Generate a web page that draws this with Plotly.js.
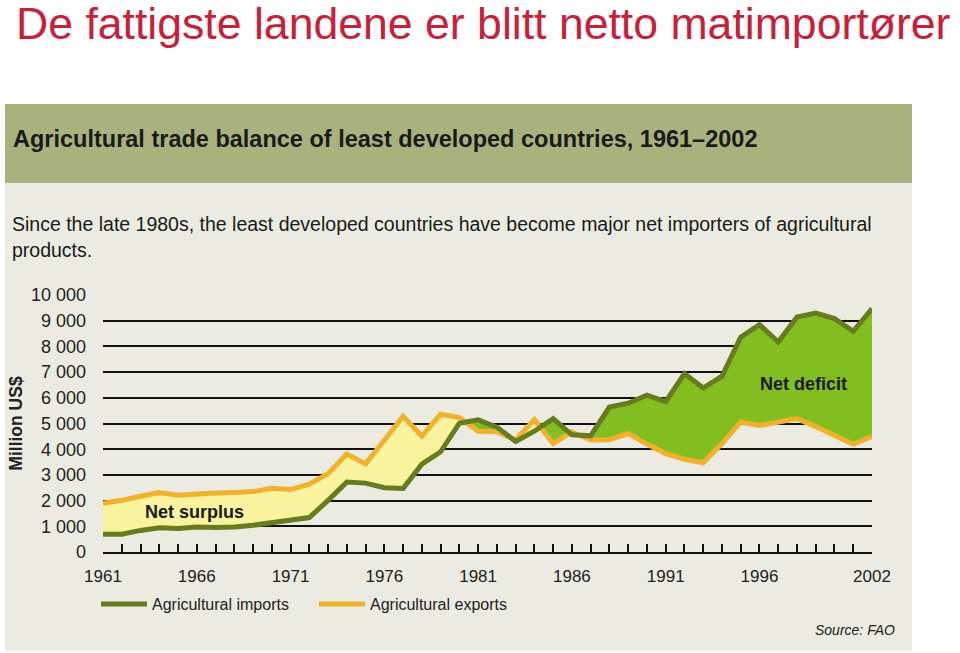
<!DOCTYPE html>
<html>
<head>
<meta charset="utf-8">
<script src="https://cdn.plot.ly/plotly-3.0.1.min.js"></script>
<style>html,body{margin:0;padding:0;background:#fff;}#chart{width:960px;height:653px;}</style>
</head>
<body>
<div id="chart"></div>
<script>
// ---- data (million US$) ----
const years = [1961,1962,1963,1964,1965,1966,1967,1968,1969,1970,
               1971,1972,1973,1974,1975,1976,1977,1978,1979,1980,
               1981,1982,1983,1984,1985,1986,1987,1988,1989,1990,
               1991,1992,1993,1994,1995,1996,1997,1998,1999,2000,
               2001,2002];
const imports = [690,690,840,940,910,970,950,970,1040,1150,
                 1230,1340,2010,2720,2680,2500,2470,3420,3900,5010,
                 5140,4860,4300,4700,5190,4560,4520,5640,5790,6100,
                 5850,6940,6380,6840,8360,8850,8170,9140,9300,9080,
                 8590,9470];
const exports = [1900,2010,2170,2310,2210,2270,2300,2320,2350,2480,
                 2430,2640,3050,3810,3430,4350,5280,4510,5360,5230,
                 4700,4680,4360,5150,4220,4670,4360,4370,4610,4200,
                 3830,3610,3470,4220,5060,4920,5070,5190,4880,4520,
                 4190,4490];
const labelYears = [1961,1966,1971,1976,1981,1986,1991,1996,2002];
const yTicks = [0,1000,2000,3000,4000,5000,6000,7000,8000,9000,10000];
const yTickText = ["0","1 000","2 000","3 000","4 000","5 000","6 000","7 000","8 000","9 000","10 000"];

// ---- derived: series with exact crossing points inserted (for the fills) ----
const fx = [], fi = [], fe = [];
for (let k = 0; k < years.length; k++) {
  fx.push(years[k]); fi.push(imports[k]); fe.push(exports[k]);
  if (k < years.length - 1) {
    const d0 = exports[k] - imports[k], d1 = exports[k+1] - imports[k+1];
    if (d0 * d1 < 0) {
      const t = d0 / (d0 - d1);
      fx.push(years[k] + t);
      fi.push(imports[k] + t * (imports[k+1] - imports[k]));
      fe.push(exports[k] + t * (exports[k+1] - exports[k]));
    }
  }
}
const fmax = fi.map((v, k) => Math.max(v, fe[k]));

// ---- layout geometry helpers (pixels -> paper) ----
const L = 103, R = 872, T = 295, B = 552;
const W = R - L, H = B - T;
const xp = px => (px - L) / W;
const yp = py => (B - py) / H;

const IMP = '#667c1f', EXP = '#f0b12c';
const FONT = 'Liberation Sans, Arial, sans-serif';

const traces = [
  {x: fx, y: fi, mode: 'lines', line: {width: 0}, showlegend: false, hoverinfo: 'skip'},
  {x: fx, y: fmax, mode: 'lines', line: {width: 0}, fill: 'tonexty', fillcolor: '#f8f39c', showlegend: false, hoverinfo: 'skip'},
  {x: fx, y: fe, mode: 'lines', line: {width: 0}, showlegend: false, hoverinfo: 'skip'},
  {x: fx, y: fmax, mode: 'lines', line: {width: 0}, fill: 'tonexty', fillcolor: '#82be1f', showlegend: false, hoverinfo: 'skip'},
  {x: years, y: exports, name: 'Agricultural exports', mode: 'lines', line: {color: EXP, width: 5}, legendrank: 2},
  {x: years, y: imports, name: 'Agricultural imports', mode: 'lines', line: {color: IMP, width: 5}, legendrank: 1}
];

const layout = {
  width: 960, height: 653,
  margin: {l: L, r: 960 - R, t: T, b: 653 - B},
  paper_bgcolor: '#ffffff',
  plot_bgcolor: 'rgba(0,0,0,0)',
  font: {family: FONT, color: '#1a1a1a'},
  title: {
    text: 'De fattigste landene er blitt netto matimportører',
    font: {family: FONT, size: 44.6, color: '#c8203a'},
    xref: 'container', yref: 'container',
    x: 16 / 960, xanchor: 'left',
    y: 1 - 23 / 653, yanchor: 'middle'
  },
  xaxis: {
    range: [1961, 2002],
    tickvals: years,
    ticktext: years.map(y => labelYears.includes(y) ? String(y) : ''),
    ticks: 'inside', ticklen: 8, tickwidth: 2, tickcolor: '#111',
    showline: true, linecolor: '#111', linewidth: 2,
    showgrid: false, zeroline: false,
    tickfont: {family: FONT, size: 17, color: '#222'},
    ticklabelstandoff: 8,
    fixedrange: true
  },
  yaxis: {
    range: [0, 10000],
    tickvals: yTicks, ticktext: yTickText,
    showgrid: true, gridcolor: '#111', gridwidth: 2,
    zeroline: false, showline: false, ticks: '',
    tickfont: {family: FONT, size: 18, color: '#222'},
    ticklabelstandoff: 16,
    title: {text: 'Million US$', font: {family: FONT, size: 17.5, color: '#222', weight: 'bold'}, standoff: 3},
    fixedrange: true
  },
  showlegend: true,
  legend: {
    orientation: 'h', x: xp(96), y: yp(604), xanchor: 'left', yanchor: 'middle',
    font: {family: FONT, size: 16, color: '#222'},
    bgcolor: 'rgba(0,0,0,0)', traceorder: 'normal', itemwidth: 46, entrywidth: 157
  },
  shapes: [
    {type: 'rect', xref: 'paper', yref: 'paper', x0: xp(5), x1: xp(912), y0: yp(651), y1: yp(104),
     fillcolor: '#ebebe1', line: {width: 0}, layer: 'below'},
    {type: 'rect', xref: 'paper', yref: 'paper', x0: xp(5), x1: xp(912), y0: yp(183), y1: yp(104),
     fillcolor: '#a9b27d', line: {width: 0}, layer: 'below'}
  ],
  annotations: [
    {text: '<b>Agricultural trade balance of least developed countries, 1961–2002</b>',
     xref: 'paper', yref: 'paper', x: xp(11), y: yp(139), xanchor: 'left', yanchor: 'middle',
     showarrow: false, font: {family: FONT, size: 23.5, color: '#1a1a1a'}},
    {text: 'Since the late 1980s, the least developed countries have become major net importers of agricultural',
     xref: 'paper', yref: 'paper', x: xp(10), y: yp(224), xanchor: 'left', yanchor: 'middle',
     showarrow: false, font: {family: FONT, size: 19.5, color: '#1a1a1a'}},
    {text: 'products.',
     xref: 'paper', yref: 'paper', x: xp(10), y: yp(250), xanchor: 'left', yanchor: 'middle',
     showarrow: false, font: {family: FONT, size: 19.5, color: '#1a1a1a'}},
    {text: '<b>Net surplus</b>', xref: 'paper', yref: 'paper', x: xp(194), y: yp(512),
     xanchor: 'center', yanchor: 'middle', showarrow: false, font: {family: FONT, size: 18, color: '#1a1a1a'}},
    {text: '<b>Net deficit</b>', xref: 'paper', yref: 'paper', x: xp(803), y: yp(384),
     xanchor: 'center', yanchor: 'middle', showarrow: false, font: {family: FONT, size: 18, color: '#1a1a1a'}},
    {text: '<i>Source: FAO</i>', xref: 'paper', yref: 'paper', x: xp(897), y: yp(630),
     xanchor: 'right', yanchor: 'middle', showarrow: false, font: {family: FONT, size: 14, color: '#222'}}
  ]
};

Plotly.newPlot('chart', traces, layout, {staticPlot: true, displayModeBar: false});
</script>
</body>
</html>
